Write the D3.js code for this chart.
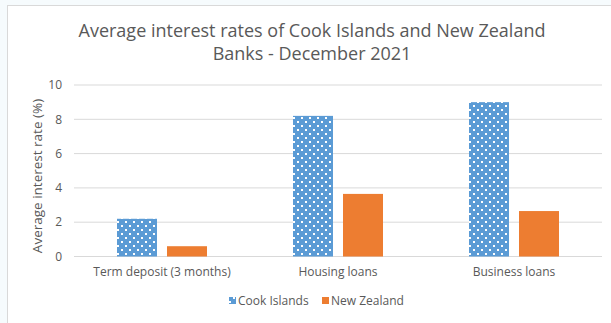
<!DOCTYPE html>
<html>
<head>
<meta charset="utf-8">
<script src="https://cdn.jsdelivr.net/npm/d3@7"></script>
<style>
  body { margin: 0; background: #f6fbfd; }
  svg { display: block; font-family: "Open Sans", sans-serif; }
</style>
</head>
<body>
<svg id="chart" width="611" height="323"></svg>
<script>
const categories = ["Term deposit (3 months)", "Housing loans", "Business loans"];
const seriesNames = ["Cook Islands", "New Zealand"];
const cookIslands = [2.2, 8.2, 9.0];
const newZealand = [0.6, 3.65, 2.65];
const yTicks = [0, 2, 4, 6, 8, 10];

const svg = d3.select("#chart");
const margin = { left: 74, right: 9, top: 85, bottom: 66.5 };
const W = 611, H = 323;

// chart area box
svg.append("rect")
  .attr("x", 7.5).attr("y", 5.5)
  .attr("width", W).attr("height", H)
  .attr("fill", "#fff").attr("stroke", "#d9d9d9");

const defs = svg.append("defs");
const pat = defs.append("pattern")
  .attr("id", "dots").attr("patternUnits", "userSpaceOnUse")
  .attr("width", 8).attr("height", 8);
pat.append("rect").attr("width", 8).attr("height", 8).attr("fill", "#5b9bd5");
pat.append("rect").attr("x", 1).attr("y", 1).attr("width", 2).attr("height", 2).attr("fill", "#fff");
pat.append("rect").attr("x", 5).attr("y", 5).attr("width", 2).attr("height", 2).attr("fill", "#fff");

const x0 = d3.scaleBand().domain(categories)
  .range([margin.left, W - margin.right]);
const x1 = d3.scaleBand().domain(seriesNames)
  .range([43, 133]).paddingInner(0.2);
const y = d3.scaleLinear().domain([0, 10])
  .range([H - margin.bottom, margin.top]);

// gridlines
svg.append("g").selectAll("line").data(yTicks).join("line")
  .attr("x1", margin.left).attr("x2", W - margin.right)
  .attr("y1", d => y(d)).attr("y2", d => y(d))
  .attr("stroke", "#d9d9d9").attr("stroke-width", 1);

// y tick labels
svg.append("g").selectAll("text").data(yTicks).join("text")
  .attr("x", 62).attr("y", d => y(d)).attr("dy", "0.35em")
  .attr("text-anchor", "end").attr("font-size", 12).attr("fill", "#595959")
  .text(d => d);

const values = [cookIslands, newZealand];
const fills = ["url(#dots)", "#ed7d31"];

categories.forEach((c, i) => {
  seriesNames.forEach((s, j) => {
    const v = values[j][i];
    svg.append("rect")
      .attr("x", x0(c) + x1(s))
      .attr("y", y(v))
      .attr("width", x1.bandwidth())
      .attr("height", y(0) - y(v))
      .attr("fill", fills[j]);
  });
});

// x labels
svg.append("g").selectAll("text").data(categories).join("text")
  .attr("x", d => x0(d) + x0.bandwidth() / 2)
  .attr("y", 276)
  .attr("text-anchor", "middle").attr("font-size", 12).attr("fill", "#595959")
  .text(d => d);

// y axis title
svg.append("text")
  .attr("transform", "translate(42,176) rotate(-90)")
  .attr("text-anchor", "middle").attr("font-size", 13.5).attr("fill", "#595959")
  .text("Average interest rate (%)");

// title
svg.append("text")
  .attr("x", 312).attr("y", 37)
  .attr("text-anchor", "middle").attr("font-size", 18).attr("fill", "#595959")
  .text("Average interest rates of Cook Islands and New Zealand");
svg.append("text")
  .attr("x", 312).attr("y", 60)
  .attr("text-anchor", "middle").attr("font-size", 18).attr("fill", "#595959")
  .text("Banks - December 2021");

// legend
const legendX = [229, 322];
seriesNames.forEach((s, j) => {
  svg.append("rect")
    .attr("x", legendX[j]).attr("y", 297)
    .attr("width", 7).attr("height", 7).attr("fill", fills[j]);
  svg.append("text")
    .attr("x", legendX[j] + 9).attr("y", 301).attr("dy", "0.35em")
    .attr("font-size", 12).attr("fill", "#595959")
    .text(s);
});
</script>
</body>
</html>
